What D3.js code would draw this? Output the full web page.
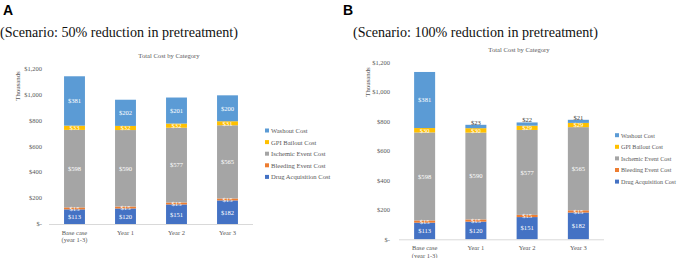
<!DOCTYPE html>
<html>
<head>
<meta charset="utf-8">
<script src="https://cdn.jsdelivr.net/npm/d3@7"></script>
<style>
  body { margin: 0; background: #fff; }
  svg { display: block; }
  text { font-family: "Liberation Serif", "Times New Roman", serif; }
</style>
</head>
<body>
<div id="chart"></div>
<script>
const categories = ["Base case\n(year 1-3)", "Year 1", "Year 2", "Year 3"]
const series_names = ["Drug Acquisition Cost", "Bleeding Event Cost", "Ischemic Event Cost", "GPI Bailout Cost", "Washout Cost"]
const series_colors = ["#4472C4", "#ED7D31", "#A5A5A5", "#FFC000", "#5B9BD5"]
const y_ticks = [0, 200, 400, 600, 800, 1000, 1200]

// panel A: 50% reduction
const drug_a = [113, 120, 151, 182]
const bleeding_a = [15, 15, 15, 15]
const ischemic_a = [598, 590, 577, 565]
const gpi_a = [33, 32, 32, 31]
const washout_a = [381, 202, 201, 200]

// panel B: 100% reduction
const drug_b = [113, 120, 151, 182]
const bleeding_b = [15, 15, 15, 15]
const ischemic_b = [598, 590, 577, 565]
const gpi_b = [30, 30, 29, 29]
const washout_b = [381, 23, 22, 21]

const svg = d3.select("#chart").append("svg")
    .attr("width", 677)
    .attr("height", 258)

function build_rows(columns) {
    return categories.map((c, i) => {
        let row = {category: c}
        series_names.forEach((s, j) => row[s] = columns[j][i])
        return row
    })
}

function fmt(v) {
    if (v === 0) return "$-"
    return "$" + d3.format(",")(v)
}

function drawPanel(p) {
    let g = svg.append("g")

    // panel letter
    g.append("text")
        .attr("x", p.letter_x).attr("y", 15)
        .style("font-family", "Liberation Sans, Arial, sans-serif")
        .style("font-weight", "bold")
        .style("font-size", "14px")
        .text(p.letter)

    g.append("text")
        .attr("x", p.sub_x).attr("y", 37)
        .style("font-size", "14.1px")
        .attr("fill", "#111")
        .text(p.subtitle)

    g.append("text")
        .attr("x", p.title_x).attr("y", p.title_y)
        .attr("text-anchor", "middle")
        .style("font-size", "6.6px")
        .attr("fill", "#595959")
        .text("Total Cost by Category")

    let x = d3.scaleBand().domain(categories)
        .range([p.x0, p.x1])
        .paddingInner(0.59).paddingOuter(0.295)
    let y = d3.scaleLinear().domain([0, 1200]).range([p.y0, p.y1])

    // y tick labels
    g.selectAll(".ytick")
        .data(y_ticks)
        .enter().append("text")
        .attr("x", p.tick_x)
        .attr("y", d => y(d))
        .attr("dy", "0.35em")
        .attr("text-anchor", "end")
        .style("font-size", "6.5px")
        .attr("fill", "#595959")
        .text(fmt)

    g.append("text")
        .attr("transform", "translate(" + p.thou_x + "," + p.thou_y + ") rotate(-90)")
        .attr("text-anchor", "middle")
        .style("font-size", "6.8px")
        .attr("fill", "#595959")
        .text("Thousands")

    let rows = build_rows(p.columns)
    let stacked = d3.stack().keys(series_names)(rows)

    let layers = g.selectAll(".layer")
        .data(stacked)
        .enter().append("g")
        .attr("fill", (d, i) => series_colors[i])

    layers.selectAll("rect")
        .data(d => d)
        .enter().append("rect")
        .attr("x", d => x(d.data.category))
        .attr("width", x.bandwidth())
        .attr("y", d => y(d[1]))
        .attr("height", d => y(d[0]) - y(d[1]))

    // data labels
    stacked.forEach(function (layer, li) {
        g.selectAll(null)
            .data(layer)
            .enter().append("text")
            .attr("x", d => x(d.data.category) + x.bandwidth() / 2)
            .attr("y", function (d) {
                let v = d[1] - d[0]
                if (li === 4 && v < 50) return y(d[1]) - 2.5
                return y((d[0] + d[1]) / 2)
            })
            .attr("dy", "0.35em")
            .attr("text-anchor", "middle")
            .style("font-size", "6.6px")
            .attr("fill", d => (li === 4 && d[1] - d[0] < 50) ? "#404040" : "#fff")
            .text(d => fmt(d[1] - d[0]))
    })

    // axis line
    g.append("line")
        .attr("x1", p.x0).attr("x2", p.x1)
        .attr("y1", p.y0 + 0.5).attr("y2", p.y0 + 0.5)
        .attr("stroke", "#d9d9d9")
        .attr("stroke-width", 1)

    // category labels
    g.selectAll(".xlab")
        .data(categories)
        .enter().append("text")
        .attr("x", d => x(d) + x.bandwidth() / 2)
        .attr("y", p.y0 + 11)
        .attr("text-anchor", "middle")
        .style("font-size", "6.5px")
        .attr("fill", "#595959")
        .each(function (d) {
            let lines = d.split("\n")
            d3.select(this).selectAll("tspan")
                .data(lines)
                .enter().append("tspan")
                .attr("x", x(d) + x.bandwidth() / 2)
                .attr("dy", (l, i) => i === 0 ? 0 : "1.15em")
                .text(l => l)
        })

    // legend, top to bottom reversed order
    let legend_items = series_names.slice().reverse()
    let leg = g.selectAll(".leg")
        .data(legend_items)
        .enter().append("g")
        .attr("transform", (d, i) => "translate(" + p.leg_x + "," + (p.leg_y + i * 11.6) + ")")
    leg.append("rect")
        .attr("x", 0).attr("y", -2.5)
        .attr("width", 4).attr("height", 4)
        .attr("fill", d => series_colors[series_names.indexOf(d)])
    leg.append("text")
        .attr("x", 6)
        .attr("dy", "0.3em")
        .style("font-size", p.leg_size)
        .attr("fill", "#595959")
        .text(d => d)
}

drawPanel({
    letter: "A", letter_x: 3, sub_x: 0,
    subtitle: "(Scenario: 50% reduction in pretreatment)",
    title_x: 169, title_y: 58,
    x0: 49, x1: 253, y0: 224, y1: 68.5,
    tick_x: 42, thou_x: 20, thou_y: 86,
    leg_x: 265, leg_y: 131, leg_size: "6.6px",
    columns: [drug_a, bleeding_a, ischemic_a, gpi_a, washout_a]
})

drawPanel({
    letter: "B", letter_x: 343, sub_x: 353,
    subtitle: "(Scenario: 100% reduction in pretreatment)",
    title_x: 519, title_y: 52,
    x0: 399, x1: 604, y0: 239.3, y1: 62.7,
    tick_x: 390, thou_x: 370, thou_y: 82,
    leg_x: 615, leg_y: 135.7, leg_size: "6.1px",
    columns: [drug_b, bleeding_b, ischemic_b, gpi_b, washout_b]
})
</script>
</body>
</html>
